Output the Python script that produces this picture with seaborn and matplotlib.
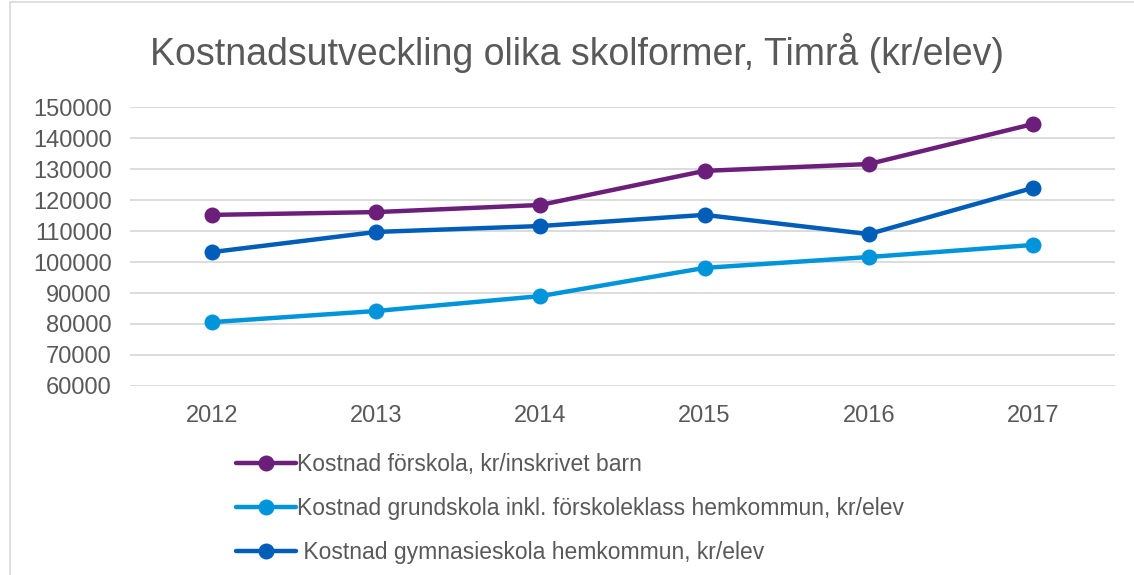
import numpy as np
import pandas as pd
import seaborn as sns
import matplotlib.pyplot as plt
from matplotlib.patches import Rectangle

years = [2012, 2013, 2014, 2015, 2016, 2017]
forskola = [115200, 116100, 118400, 129400, 131600, 144500]
grundskola = [80600, 84200, 89000, 98100, 101600, 105500]
gymnasieskola = [103200, 109700, 111600, 115200, 109000, 123900]

labels = ['Kostnad förskola, kr/inskrivet barn',
          'Kostnad grundskola inkl. förskoleklass hemkommun, kr/elev',
          ' Kostnad gymnasieskola hemkommun, kr/elev']
colors = ['#6B1F7B', '#0095DA', '#005EB8']
yticks = list(range(60000, 150001, 10000))

sns.set_theme(style='white')
plt.rcParams['font.family'] = ['Liberation Sans', 'DejaVu Sans']
text_color = '#595959'

# long-form table for seaborn
df = pd.DataFrame({
    'year': years * 3,
    'value': forskola + grundskola + gymnasieskola,
    'serie': [labels[0]] * 6 + [labels[1]] * 6 + [labels[2]] * 6,
})

fig = plt.figure(figsize=(11.34, 5.75), dpi=100)
ax = fig.add_axes([0.1146, 0.3287, 0.8686, 0.4852])

sns.lineplot(data=df, x='year', y='value', hue='serie', hue_order=labels,
             palette=colors, marker='o', markersize=11.5, markeredgewidth=0,
             linewidth=3.2, ax=ax, legend=True)

ax.set_xlim(2011.5, 2017.5)
ax.set_ylim(60000, 150000)
ax.set_xticks(years)
ax.set_yticks(yticks)
ax.set_xticklabels([str(y) for y in years], fontsize=17, color=text_color)
ax.set_yticklabels([str(v) for v in yticks], fontsize=17, color=text_color)
ax.tick_params(axis='both', length=0)
ax.tick_params(axis='x', pad=14)
ax.tick_params(axis='y', pad=13)
ax.set_xlabel('')
ax.set_ylabel('')
ax.yaxis.grid(True, color='#D9D9D9', linewidth=1.3)
ax.set_axisbelow(True)
for s in ax.spines.values():
    s.set_visible(False)

handles, _ = ax.get_legend_handles_labels()
ax.legend(handles=handles, labels=labels, loc='upper left',
          bbox_to_anchor=(0.2, 0.228), bbox_transform=fig.transFigure,
          frameon=False, fontsize=16.5, labelcolor=text_color,
          handlelength=2.6, handletextpad=0.05, labelspacing=0.92,
          borderaxespad=0)

fig.text(0.509, 0.907, 'Kostnadsutveckling olika skolformer, Timrå (kr/elev)',
         ha='center', va='center', fontsize=27, color=text_color)

# thin chart frame like the original
fig.patches.append(Rectangle((0.009, -0.01), 1.1, 1.006, transform=fig.transFigure,
                             fill=False, edgecolor='#D9D9D9', linewidth=1.2))

fig.savefig('out.png', dpi=100)
